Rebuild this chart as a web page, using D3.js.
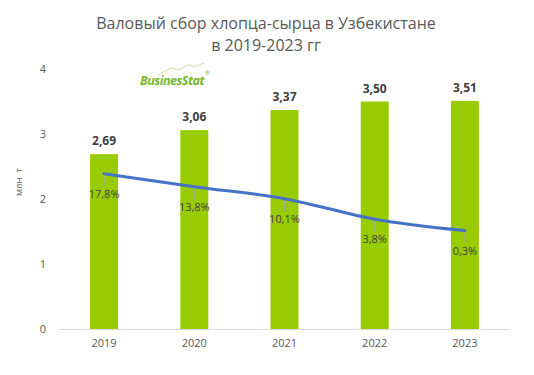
<!DOCTYPE html>
<html>
<head>
<meta charset="utf-8">
<script src="https://cdn.jsdelivr.net/npm/d3@7"></script>
<style>
body{margin:0;background:#fff;}
svg{display:block;font-family:"Open Sans","Noto Sans",sans-serif;}
</style>
</head>
<body>
<svg width="534" height="375"></svg>
<script>
(()=>{

//data
let years = ["2019","2020","2021","2022","2023"];
let harvest = [2.69, 3.06, 3.37, 3.50, 3.51];
let growth = [17.8, 13.8, 10.1, 3.8, 0.3];
let yTicks = [0, 1, 2, 3, 4];

let svg = d3.select("svg"),
	fmt = v => d3.format(".2f")(v).replace(".", ","),
	fmtPct = v => d3.format(".1f")(v).replace(".", ",") + "%";

let x = d3.scaleBand().domain(years).range([59, 510]).paddingInner(0.69).paddingOuter(0.345);
let y = d3.scaleLinear().domain([0, 4]).range([329, 69]);
//hidden secondary axis for growth line
let y2 = d3.scaleLinear().domain([-30, 50]).range([329, 69]);

//title
let title = svg.append("text")
	.attr("x", 266).attr("y", 29)
	.attr("text-anchor", "middle")
	.attr("fill", "#595959")
	.style("font-size", "16px");
title.append("tspan").attr("x", 266).text("Валовый сбор хлопца-сырца в Узбекистане");
title.append("tspan").attr("x", 266).attr("dy", 22).text("в 2019-2023 гг");

//logo
let logo = svg.append("g");
logo.append("path")
	.attr("d", "M158,75 C166,72 170,66 176,69 C182,72 186,62 192,66 C196,68 200,64 204,63")
	.attr("fill", "none").attr("stroke", "#c8e0a0").attr("stroke-width", 1);
logo.append("text")
	.attr("x", 140).attr("y", 85)
	.attr("fill", "#76b82a")
	.style("font-size", "12.5px").style("font-weight", "bold").style("font-style", "italic")
	.style("letter-spacing", "-0.5px")
	.text("BusinesStat");
logo.append("text")
	.attr("x", 205).attr("y", 75)
	.attr("fill", "#76b82a")
	.style("font-size", "6px")
	.text("®");

//y axis labels
svg.selectAll(".ytick")
	.data(yTicks)
	.enter().append("text")
	.attr("class", "ytick")
	.attr("x", 46)
	.attr("y", d => y(d) + 4)
	.attr("text-anchor", "end")
	.attr("fill", "#595959")
	.style("font-size", "11px")
	.text(d => d);

svg.append("text")
	.attr("transform", "translate(22,182) rotate(-90)")
	.attr("text-anchor", "middle")
	.attr("fill", "#595959")
	.style("font-size", "9.5px")
	.style("white-space", "pre")
	.text("млн  т");

//bars
svg.selectAll(".bar")
	.data(harvest)
	.enter().append("rect")
	.attr("class", "bar")
	.attr("x", (d, i) => x(years[i]))
	.attr("y", d => y(d))
	.attr("width", x.bandwidth())
	.attr("height", d => y(0) - y(d))
	.attr("fill", "#99cc00");

//bar labels
svg.selectAll(".blabel")
	.data(harvest)
	.enter().append("text")
	.attr("class", "blabel")
	.attr("x", (d, i) => x(years[i]) + x.bandwidth() / 2)
	.attr("y", d => y(d) - 9)
	.attr("text-anchor", "middle")
	.attr("fill", "#404040")
	.style("font-size", "12px")
	.style("font-weight", "bold")
	.text(fmt);

//x axis
svg.append("line")
	.attr("x1", 59).attr("x2", 510)
	.attr("y1", y(0) + 0.5).attr("y2", y(0) + 0.5)
	.attr("stroke", "#d9d9d9");

svg.selectAll(".xtick")
	.data(years)
	.enter().append("text")
	.attr("class", "xtick")
	.attr("x", d => x(d) + x.bandwidth() / 2)
	.attr("y", 347)
	.attr("text-anchor", "middle")
	.attr("fill", "#595959")
	.style("font-size", "11px")
	.text(d => d);

//growth line
let px = i => x(years[i]) + x.bandwidth() / 2;
let line = d3.line()
	.x((d, i) => px(i))
	.y(d => y2(d))
	.curve(d3.curveMonotoneX);

//leader lines
svg.selectAll(".leader")
	.data(growth)
	.enter().append("line")
	.attr("class", "leader")
	.attr("x1", (d, i) => px(i)).attr("x2", (d, i) => px(i))
	.attr("y1", d => y2(d)).attr("y2", d => y2(d) + 12)
	.attr("stroke", "#a6a6a6");

svg.append("path")
	.datum(growth)
	.attr("d", line)
	.attr("fill", "none")
	.attr("stroke", "#4472c4")
	.attr("stroke-width", 3)
	.attr("stroke-linecap", "round");

svg.selectAll(".glabel")
	.data(growth)
	.enter().append("text")
	.attr("class", "glabel")
	.attr("x", (d, i) => px(i))
	.attr("y", d => y2(d) + 24)
	.attr("text-anchor", "middle")
	.attr("fill", "#404040")
	.style("font-size", "11px")
	.text(fmtPct);

})();
</script>
</body>
</html>
